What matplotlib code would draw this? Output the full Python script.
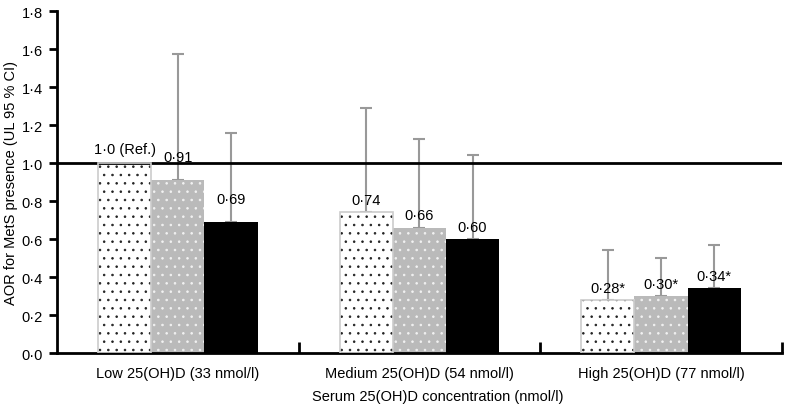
import numpy as np
import matplotlib
matplotlib.use('Agg')
import matplotlib.pyplot as plt

plt.rcParams['font.family'] = ['Liberation Sans', 'DejaVu Sans']
plt.rcParams['hatch.linewidth'] = 0.6

# Data
groups = ['Low 25(OH)D (33 nmol/l)', 'Medium 25(OH)D (54 nmol/l)',
          'High 25(OH)D (77 nmol/l)']
model1 = [1.0, 0.74, 0.28]
model2 = [0.91, 0.66, 0.30]
model3 = [0.69, 0.60, 0.34]
upper1 = [None, 1.29, 0.545]
upper2 = [1.575, 1.125, 0.50]
upper3 = [1.16, 1.045, 0.57]
labels1 = ['1\u00b70 (Ref.)', '0\u00b774', '0\u00b728*']
labels2 = ['0\u00b791', '0\u00b766', '0\u00b730*']
labels3 = ['0\u00b769', '0\u00b760', '0\u00b734*']
yticks = [0.0, 0.2, 0.4, 0.6, 0.8, 1.0, 1.2, 1.4, 1.6, 1.8]

fig = plt.figure(figsize=(7.85, 4.06), dpi=100)
ax = fig.add_axes([0.0726, 0.128, 0.9234, 0.842])

x = np.arange(len(groups))
w = 0.22
series = [
    (model1, upper1, labels1, 'white', '#222222', '#cccccc'),
    (model2, upper2, labels2, '#bababa', '#f2f2f2', 'none'),
    (model3, upper3, labels3, 'black', 'black', 'none'),
]
for k, (vals, ups, labs, face, hcol, outline) in enumerate(series):
    xs = x + (k - 1) * w
    # hatch (dots) drawn through edgecolor, outline drawn separately
    ax.bar(xs, vals, w, color=face, edgecolor=hcol, hatch='..', linewidth=0,
           zorder=2)
    ax.bar(xs, vals, w, fill=False, edgecolor=outline, linewidth=1.2, zorder=3)
    for xi, v, u, lab in zip(xs, vals, ups, labs):
        if u is not None:
            ax.errorbar(xi, v, yerr=[[0], [u - v]], color='#999999', lw=1.5,
                        capsize=4, capthick=1.5, zorder=1)
        off = 0.12 if (v > 0.65 and v < 0.95) and xi < 0.5 else 0.065
        if lab.startswith('1'):
            off = 0.075
        ax.text(xi, v + off, lab, ha='center', va='center', fontsize=10.5,
                zorder=4)

ax.axhline(1.0, color='black', lw=2, zorder=2)

ax.set_xlim(-0.5, 2.5)
ax.set_ylim(0, 1.8)
ax.set_yticks(yticks)
ax.set_yticklabels(['{:.1f}'.format(t).replace('.', '\u00b7') for t in yticks],
                   fontsize=10.5)
ax.set_xticks(x)
ax.set_xticklabels(groups, fontsize=10.5)
ax.tick_params(axis='x', which='major', length=0, pad=9)
ax.set_xticks([0.5, 1.5, 2.5], minor=True)
ax.tick_params(axis='x', which='minor', direction='in', length=8, width=2)
ax.tick_params(axis='y', direction='out', length=6, width=2, pad=4)

for s in ['top', 'right']:
    ax.spines[s].set_visible(False)
for s in ['left', 'bottom']:
    ax.spines[s].set_linewidth(2)

ax.set_xlabel('Serum 25(OH)D concentration (nmol/l)', fontsize=10.5,
              labelpad=7)
ax.xaxis.label.set_x(0.525)
ax.set_ylabel('AOR for MetS presence (UL 95 % CI)', fontsize=10.5,
              labelpad=3)

fig.savefig('out.png', dpi=100)
